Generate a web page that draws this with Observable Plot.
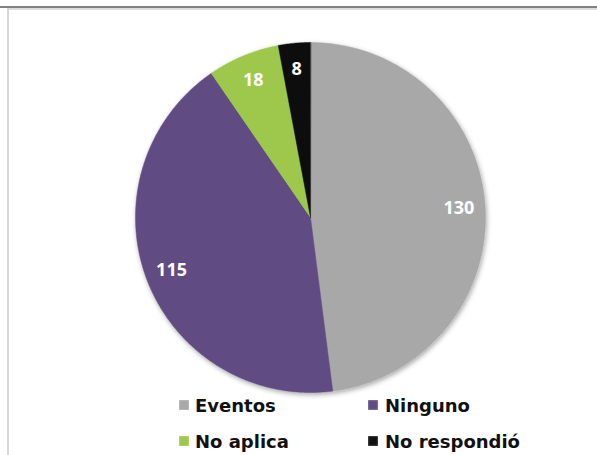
<!DOCTYPE html>
<html>
<head>
<meta charset="utf-8">
<script src="https://cdn.jsdelivr.net/npm/d3@7"></script>
<script src="https://cdn.jsdelivr.net/npm/@observablehq/plot@0.6"></script>
<style>
  html, body { margin: 0; padding: 0; background: #fff; }
  #wrap { position: relative; width: 597px; height: 455px; overflow: hidden; background: #fff; }
  .topline1 { position: absolute; left: 0; top: 6px; width: 597px; height: 2px; background: #808080; }
  .topline2 { position: absolute; left: 8px; top: 8px; width: 589px; height: 2px; background: #dcdcdc; }
  .leftline { position: absolute; left: 7px; top: 8px; width: 2px; height: 447px; background: #d6d6d6; }
  #chart { position: absolute; left: 0; top: 0; }
  .leg { position: absolute; font-family: "DejaVu Sans", sans-serif; font-weight: bold; font-size: 18px; line-height: 18px; color: #111; white-space: nowrap; }
  .sw { position: absolute; width: 10px; height: 10px; }
</style>
</head>
<body>
<div id="wrap">
  <div class="topline1"></div>
  <div class="topline2"></div>
  <div class="leftline"></div>
  <div id="chart"></div>
  <div id="legend"></div>
</div>
<script>
const categories = ["Eventos", "Ninguno", "No aplica", "No respondió"];
const values = [130, 115, 18, 8];
const colors = ["#a8a8a8", "#604c83", "#9dc84b", "#111111"];

const total = d3.sum(values);
// build slice polygons (clockwise from 12 o'clock), in unit-circle coordinates
const points = [];
const labels = [];
let acc = 0;
categories.forEach((cat, i) => {
  const a0 = acc / total * 2 * Math.PI;
  acc += values[i];
  const a1 = acc / total * 2 * Math.PI;
  points.push({cat, x: 0, y: 0});
  const n = Math.max(2, Math.ceil((a1 - a0) / (Math.PI / 360)));
  for (let k = 0; k <= n; k++) {
    const a = a0 + (a1 - a0) * k / n;
    points.push({cat, x: Math.sin(a), y: Math.cos(a)});
  }
  const am = (a0 + a1) / 2;
  const lr = 0.85;
  labels.push({cat, v: String(values[i]), x: lr * Math.sin(am), y: lr * Math.cos(am)});
});

const plot = Plot.plot({
  width: 597,
  height: 398,
  margin: 0,
  style: {background: "transparent"},
  x: {domain: [-1, 1], range: [135, 485], axis: null},
  y: {domain: [-1, 1], range: [392, 42], axis: null},
  color: {domain: categories, range: colors},
  marks: [
    Plot.line(points, {x: "x", y: "y", z: "cat", fill: "cat", stroke: "cat", strokeWidth: 0.5, curve: "linear-closed"}),
    Plot.text(labels, {x: "x", y: "y", text: "v", fill: "white", fontSize: 18, fontWeight: "bold", fontFamily: "Open Sans, sans-serif"})
  ]
});
plot.style.overflow = "visible";
// subtle drop shadow on the pie
const svg = d3.select(plot);
const defs = svg.insert("defs", ":first-child");
const f = defs.append("filter").attr("id", "sh").attr("x", "-20%").attr("y", "-20%").attr("width", "140%").attr("height", "140%");
f.append("feDropShadow").attr("dx", 1).attr("dy", 2).attr("stdDeviation", 2.5).attr("flood-color", "#000").attr("flood-opacity", 0.35);
svg.select("g[aria-label='line']").attr("filter", "url(#sh)");
document.getElementById("chart").appendChild(plot);

// legend
const legPos = [
  {sx: 179, sy: 400, tx: 195, ty: 397},
  {sx: 368, sy: 400, tx: 385, ty: 397},
  {sx: 179, sy: 436, tx: 195, ty: 433},
  {sx: 368, sy: 436, tx: 385, ty: 433}
];
const leg = document.getElementById("legend");
categories.forEach((cat, i) => {
  const p = legPos[i];
  const sw = document.createElement("div");
  sw.className = "sw";
  sw.style.left = p.sx + "px";
  sw.style.top = p.sy + "px";
  sw.style.background = colors[i];
  sw.style.boxShadow = "inset 0 0 2px rgba(255,255,255,0.6)";
  leg.appendChild(sw);
  const t = document.createElement("div");
  t.className = "leg";
  t.style.left = p.tx + "px";
  t.style.top = p.ty + "px";
  t.textContent = cat;
  leg.appendChild(t);
});
</script>
</body>
</html>
